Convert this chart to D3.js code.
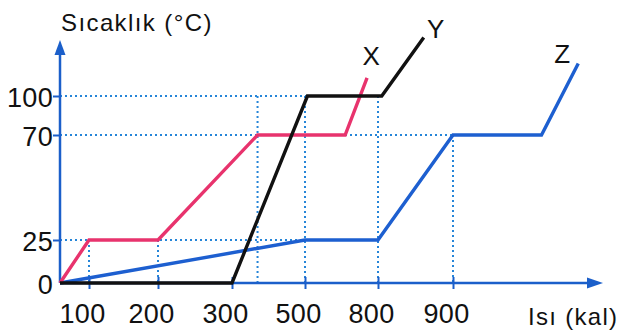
<!DOCTYPE html>
<html><head><meta charset="utf-8">
<script src="https://cdn.jsdelivr.net/npm/d3@7/dist/d3.min.js"></script>
<style>
html,body{margin:0;padding:0;background:#fff;}
svg{display:block;font-family:"Liberation Sans",Arial,sans-serif;}
</style></head>
<body>
<svg id="c" width="618" height="334"></svg>
<script>
// ---- data ----
const xTickValues = [100, 200, 300, 500, 800, 900];          // Isı (kal)
const yTickValues = [0, 25, 70, 100];                          // Sıcaklık (°C)
const seriesNames = ["X", "Y", "Z"];
const heatX = [0, 100, 200, 370, 665, 755];
const tempX = [0, 25, 25, 70, 70, 114];
const heatY = [0, 300, 510, 805, 861];
const tempY = [0, 0, 100, 100, 145];
const heatZ = [0, 500, 800, 900, 1018, 1067];
const tempZ = [0, 25, 25, 70, 70, 125];
// guide lines: [heat, temp] of the point each dotted guide marks
const guideH = [[510, 100], [900, 70], [500, 25]];
const guideV = [[100, 25], [200, 25], [370, 100], [500, 100], [800, 100], [900, 70]];

const svg = d3.select("#c");
const ox = 60, oy = 283;
// heat axis is drawn with uneven spacing in the original (polylinear scale)
const x = d3.scaleLinear()
  .domain([0, 100, 200, 300, 500, 800, 900])
  .range([ox, 89, 158, 232, 305, 378, 453]);
const y = d3.scaleLinear()
  .domain([0, 25, 70, 100])
  .range([oy, 240, 135, 96]);

const blueAxis = "#1b5fca", dotBlue = "#2585d8";

// dotted guides
const g = svg.append("g");
guideH.forEach(([h, t]) => {
  g.append("line").attr("x1", ox).attr("x2", x(h)).attr("y1", y(t)).attr("y2", y(t))
    .attr("stroke", dotBlue).attr("stroke-width", 2).attr("stroke-dasharray", "2,3");
});
guideV.forEach(([h, t]) => {
  g.append("line").attr("x1", x(h)).attr("x2", x(h)).attr("y1", y(t)).attr("y2", oy)
    .attr("stroke", dotBlue).attr("stroke-width", 2).attr("stroke-dasharray", "2,3");
});

// axes
const xAxis = svg.append("g").attr("transform", `translate(0,${oy})`)
  .call(d3.axisBottom(x).tickValues(xTickValues).tickSize(6).tickPadding(9));
xAxis.select(".domain").remove();
xAxis.selectAll(".tick line").attr("y1", -6).attr("y2", 6).attr("stroke", blueAxis).attr("stroke-width", 2);
xAxis.selectAll(".tick text").attr("font-size", 27).attr("fill", "#111")
  .attr("font-family", "Liberation Sans, Arial, sans-serif").attr("dx", -7).attr("dy", "0.92em")
  .style("letter-spacing", "0.3px");

const yAxis = svg.append("g").attr("transform", `translate(${ox},0)`)
  .call(d3.axisLeft(y).tickValues(yTickValues).tickSize(7).tickPadding(0));
yAxis.select(".domain").remove();
yAxis.selectAll(".tick line").attr("stroke", blueAxis).attr("stroke-width", 2);
yAxis.selectAll(".tick text").attr("font-size", 27).attr("fill", "#111")
  .attr("font-family", "Liberation Sans, Arial, sans-serif").attr("dy", "0.4em")
  .style("letter-spacing", "0.3px");
yAxis.selectAll(".tick").filter(d => d === 0).select("line").remove();

// axis lines with arrows
svg.append("line").attr("x1", ox).attr("x2", ox).attr("y1", oy).attr("y2", 50)
  .attr("stroke", blueAxis).attr("stroke-width", 2.5);
svg.append("path").attr("d", `M${ox},40 L${ox - 5.5},55 L${ox + 5.5},55 Z`).attr("fill", blueAxis);
svg.append("line").attr("x1", ox).attr("x2", 592).attr("y1", oy).attr("y2", oy)
  .attr("stroke", blueAxis).attr("stroke-width", 2.5);
svg.append("path").attr("d", `M603,${oy} L587,${oy - 5.5} L587,${oy + 5.5} Z`).attr("fill", blueAxis);

// series
const line = d3.line().x(d => x(d[0])).y(d => y(d[1]));
const series = [
  {name: seriesNames[0], h: heatX, t: tempX, color: "#e8336d"},
  {name: seriesNames[1], h: heatY, t: tempY, color: "#111111"},
  {name: seriesNames[2], h: heatZ, t: tempZ, color: "#1d5fd0"}
];
const order = [2, 0, 1];
order.forEach(i => {
  const s = series[i];
  svg.append("path").datum(s.h.map((v, k) => [v, s.t[k]]))
    .attr("d", line).attr("fill", "none").attr("stroke", s.color)
    .attr("stroke-width", 3.4).attr("stroke-linejoin", "miter");
});

// series labels near line ends
const labelOffsets = [[4, -13], [12, 0], [-16, -1]];
series.forEach((s, i) => {
  const n = s.h.length - 1;
  svg.append("text").attr("x", x(s.h[n]) + labelOffsets[i][0]).attr("y", y(s.t[n]) + labelOffsets[i][1])
    .attr("text-anchor", "middle").attr("font-size", 26).attr("fill", "#111").text(s.name);
});

// axis titles
svg.append("text").attr("x", 61).attr("y", 31).attr("font-size", 24).attr("fill", "#111")
  .style("letter-spacing", "1.4px").text("Sıcaklık (°C)");
svg.append("text").attr("x", 528).attr("y", 325).attr("font-size", 24).attr("fill", "#111")
  .style("letter-spacing", "1.3px").text("Isı (kal)");
</script>
</body></html>
